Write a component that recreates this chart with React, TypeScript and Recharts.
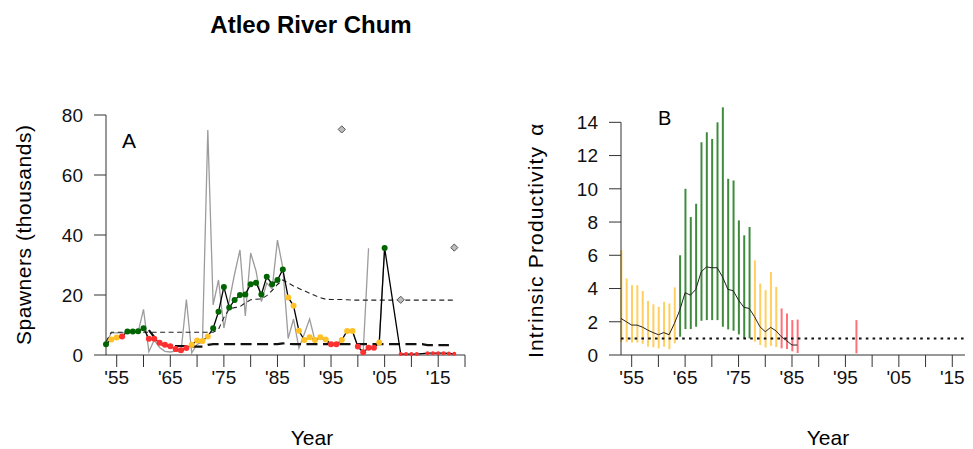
import React from 'react';
import { ComposedChart, Line, Bar, Cell, XAxis, YAxis, ReferenceLine, Scatter } from 'recharts';

// ---------- Panel A data ----------
const yearsA = [
  1953, 1954, 1955, 1956, 1957, 1958, 1959, 1960, 1961, 1962,
  1963, 1964, 1965, 1966, 1967, 1968, 1969, 1970, 1971, 1972,
  1973, 1974, 1975, 1976, 1977, 1978, 1979, 1980, 1981, 1982,
  1983, 1984, 1985, 1986, 1987, 1988, 1989, 1990, 1991, 1992,
  1993, 1994, 1995, 1996, 1997, 1998, 1999, 2000, 2001, 2002,
  2003, 2004, 2005, 2006, 2007, 2008, 2009, 2010, 2011, 2012,
  2013, 2014, 2015, 2016, 2017, 2018,
];
// observed spawners (thousands), grey line
const observedSpawners = [
  3.9, 7.4, 7.4, 7.4, 7.6, 7.6, 7.6, 15.2, 1.1, 5.0,
  2.5, 1.2, 1.0, 1.3, 1.0, 18.5, 0.7, 3.5, 4.4, 75,
  16.7, 25, 9, 18, 27, 35, 13, 34, 28, 17.8,
  24, 22, 38.3, 29, 5.5, 12, 2.3, 7, 12, 4.8,
  5.6, 4.8, 3.2, 3.2, null, 7.6, 7.8, 2.8, 0.9, 35.6,
  null, 4.2, 35.7, null, null, null, null, null, null, null,
  null, null, null, null, null, null,
];
// smoothed spawners (thousands), black line with status points
const smoothedSpawners = [
  3.6, 5.2, 5.8, 6.2, 7.8, 7.8, 7.9, 8.9, 5.4, 5.4,
  4.1, 3.4, 2.9, 2.0, 1.6, 2.3, 3.4, 4.8, 4.7, 6.2,
  8.9, 14.4, 22.7, 15.8, 18.3, 20.0, 20.2, 23.6, 24.1, 20.2,
  26.1, 23.6, 25.0, 28.5, 19.2, 16.4, 8.1, 5.0, 5.9, 5.0,
  5.9, 5.2, 3.6, 3.6, 5.0, 8.0, 8.0, 2.8, 0.9, 2.4,
  2.4, 4.2, 35.7, null, null, 0.3, 0.3, 0.3, 0.3, null,
  0.6, 0.6, 0.6, 0.6, 0.5, 0.4,
];
// status: G = green, A = amber, R = red, r = red (sparse data)
const spawnerStatus = [
  'G', 'A', 'A', 'R', 'G', 'G', 'G', 'G', 'R', 'R',
  'R', 'R', 'R', 'R', 'R', 'R', 'A', 'A', 'A', 'A',
  'G', 'G', 'G', 'G', 'G', 'G', 'G', 'G', 'G', 'G',
  'G', 'G', 'G', 'G', 'A', 'A', 'A', 'A', 'A', 'A',
  'A', 'A', 'R', 'R', 'A', 'A', 'A', 'R', 'R', 'R',
  'R', 'A', 'G', '', '', 'r', 'r', 'r', 'r', '',
  'r', 'r', 'r', 'r', 'r', 'r',
];
// upper benchmark (thin dashed)
const upperBenchmark = [
  4.5, 7.6, 7.6, 7.6, 7.6, 7.6, 7.6, 7.6, 7.6, 7.6,
  7.6, 7.6, 7.6, 7.6, 7.6, 7.6, 7.6, 7.6, 7.6, 7.6,
  7.6, 8.6, 12.5, 15.3, 15.8, 16.1, 17.4, 18.4, 18.6, 18.7,
  19.8, 21.5, 23.5, 25.0, 24.0, 23.0, 22.2, 21.4, 20.6, 19.8,
  19.1, 18.6, 18.5, 18.5, 18.5, 18.4, 18.3, 18.3, 18.3, 18.3,
  18.3, 18.3, 18.3, 18.3, 18.3, 18.3, 18.3, 18.3, 18.3, 18.3,
  18.3, 18.3, 18.3, 18.3, 18.3, 18.3,
];
// lower benchmark (thick dashed)
const lowerBenchmark = [
  null, null, null, null, null, null, null, null, 8.3, 6.0,
  3.8, 3.1, 3.0, 3.0, 3.0, 3.0, 2.9, 2.8, 2.8, 3.4,
  3.6, 3.6, 3.6, 3.6, 3.6, 3.6, 3.6, 3.6, 3.6, 3.6,
  3.6, 3.6, 3.6, 3.9, 3.7, 3.6, 3.6, 3.6, 3.6, 3.6,
  3.6, 3.6, 3.6, 3.6, 3.6, 3.6, 3.6, 3.6, 3.6, 3.6,
  3.6, 3.6, 3.6, 3.6, 3.6, 3.6, 3.6, 3.6, 3.6, 3.6,
  3.3, 3.3, 3.3, 3.3, 3.3, null,
];
// flagged observations (grey diamonds)
const flaggedYears = [1997, 2008, 2018];
const flaggedValues = [75.2, 18.4, 35.8];

// ---------- Panel B data ----------
const yearsB = [
  1953, 1954, 1955, 1956, 1957, 1958, 1959, 1960, 1961, 1962,
  1963, 1964, 1965, 1966, 1967, 1968, 1969, 1970, 1971, 1972,
  1973, 1974, 1975, 1976, 1977, 1978, 1979, 1980, 1981, 1982,
  1983, 1984, 1985, 1986, 1997,
];
const alphaLower = [
  0.8, 0.77, 0.75, 0.75, 0.67, 0.5, 0.46, 0.4, 0.5, 0.35,
  0.71, 1.1, 1.56, 1.56, 1.7, 2.06, 2.1, 2.1, 2.1, 1.7,
  1.54, 1.46, 1.24, 1.0, 1.0, 0.8, 0.6, 0.45, 0.55, 0.48,
  0.4, 0.36, 0.22, 0.12, 0.1,
];
const alphaUpper = [
  6.3, 4.6, 4.2, 4.2, 3.85, 3.25, 3.05, 2.9, 3.2, 3.1,
  4.07, 6.0, 10.0, 8.3, 9.1, 12.8, 13.4, 13.0, 14.0, 14.9,
  10.6, 10.5, 8.1, 7.2, 7.7, 5.7, 4.3, 3.9, 5.0, 4.1,
  2.8, 2.5, 2.1, 2.13, 2.1,
];
const alphaMedian = [
  2.2, 2.0, 1.8, 1.8, 1.68, 1.5, 1.35, 1.22, 1.35, 1.22,
  1.9, 2.7, 3.75, 3.6, 3.95, 5.0, 5.3, 5.25, 5.25, 4.7,
  3.95, 3.87, 3.3, 2.87, 2.8, 2.3, 1.7, 1.4, 1.66, 1.46,
  1.1, 0.86, 0.6, 0.6, null,
];
const alphaStatus = [
  'A', 'A', 'A', 'A', 'A', 'A', 'A', 'A', 'A', 'A',
  'A', 'G', 'G', 'G', 'G', 'G', 'G', 'G', 'G', 'G',
  'G', 'G', 'G', 'G', 'G', 'A', 'A', 'A', 'A', 'A',
  'R', 'R', 'R', 'R', 'R',
];
const replacementLevel = 1;

// ---------- Axis ticks ----------
const xTickYears = [1955, 1960, 1965, 1970, 1975, 1980, 1985, 1990, 1995, 2000, 2005, 2010, 2015, 2020];
const xLabelYears = [1955, 1965, 1975, 1985, 1995, 2005, 2015];
const xLabels = ["'55", "'65", "'75", "'85", "'95", "'05", "'15"];
const yTicksA = [0, 20, 40, 60, 80];
const yTicksB = [0, 2, 4, 6, 8, 10, 12, 14];

// ---------- Tables built from the arrays ----------
const tableA = yearsA.map((year, i) => ({
  year,
  obs: observedSpawners[i],
  est: smoothedSpawners[i],
  status: spawnerStatus[i],
  upper: upperBenchmark[i],
  lower: lowerBenchmark[i],
}));
const flaggedTable = flaggedYears.map((year, i) => ({ year, value: flaggedValues[i] }));
const tableB = yearsB.map((year, i) => ({
  year,
  range: [alphaLower[i], alphaUpper[i]],
  median: alphaMedian[i],
  status: alphaStatus[i],
}));

// ---------- Styles ----------
const FONT = '"Liberation Sans", Arial, sans-serif';
const POINT_COLORS: Record<string, string> = { G: '#006400', A: '#FFC125', R: '#FF3030', r: '#FF3030' };
const BAR_COLORS: Record<string, string> = { G: '#3E8B3E', A: '#FFCF60', R: '#FF7078' };
const AXIS = '#333';

const fmtX = (v: number) => {
  const k = xLabelYears.indexOf(v);
  return k >= 0 ? xLabels[k] : '';
};

const StatusDot = (props: any) => {
  const { cx, cy, payload, index } = props;
  if (cx == null || cy == null || payload == null || payload.est == null || !payload.status) {
    return <g key={`sd-${index}`} />;
  }
  const st = payload.status as string;
  return <circle key={`sd-${index}`} cx={cx} cy={cy} r={st === 'r' ? 2 : 3} fill={POINT_COLORS[st]} stroke="none" />;
};

const Diamond = (props: any) => {
  const { cx, cy } = props;
  const s = 3.6;
  return (
    <polygon
      points={`${cx},${cy - s} ${cx + s},${cy} ${cx},${cy + s} ${cx - s},${cy}`}
      fill="#BDBDBD"
      stroke="#555"
      strokeWidth={1}
    />
  );
};

const tickStyle = { fill: '#111', fontSize: 19, fontFamily: FONT };

export default function App() {
  return (
    <div style={{ position: 'relative', width: 965, height: 441, overflow: 'hidden', fontFamily: FONT, background: '#fff' }}>
      <style>{'html,body{overflow:hidden;}'}</style>

      {/* Panel A */}
      <div style={{ position: 'absolute', left: 0, top: 0 }}>
        <ComposedChart width={470} height={441} data={tableA} margin={{ top: 107, right: 13, bottom: 64, left: 38 }}>
          <XAxis
            type="number"
            dataKey="year"
            domain={[1953, 2020]}
            ticks={xTickYears}
            interval={0}
            tickFormatter={fmtX}
            height={30}
            tickSize={12}
            tickMargin={4}
            axisLine={{ stroke: AXIS }}
            tickLine={{ stroke: AXIS }}
            tick={tickStyle}
          />
          <YAxis
            type="number"
            domain={[0, 80]}
            ticks={yTicksA}
            interval={0}
            width={60}
            tickSize={12}
            tickMargin={11}
            axisLine={{ stroke: AXIS }}
            tickLine={{ stroke: AXIS }}
            tick={tickStyle}
          />
          <Line dataKey="obs" stroke="#9C9C9C" strokeWidth={1.3} dot={false} activeDot={false} isAnimationActive={false} connectNulls={false} />
          <Line dataKey="upper" stroke="#222" strokeWidth={1.1} strokeDasharray="5 3.5" dot={false} activeDot={false} isAnimationActive={false} />
          <Line dataKey="lower" stroke="#111" strokeWidth={2.2} strokeDasharray="11 5.5" dot={false} activeDot={false} isAnimationActive={false} />
          <Line dataKey="est" stroke="#000" strokeWidth={1.3} connectNulls dot={StatusDot} activeDot={false} isAnimationActive={false} />
          <Scatter data={flaggedTable} dataKey="value" shape={Diamond} isAnimationActive={false} />
        </ComposedChart>
      </div>

      {/* Panel B */}
      <div style={{ position: 'absolute', left: 500, top: 0 }}>
        <ComposedChart width={500} height={441} data={tableB} margin={{ top: 97.7, right: 29, bottom: 64, left: 53 }}>
          <XAxis
            type="number"
            dataKey="year"
            domain={[1953, 2020]}
            ticks={xTickYears}
            interval={0}
            tickFormatter={fmtX}
            height={30}
            tickSize={12}
            tickMargin={4}
            axisLine={{ stroke: AXIS }}
            tickLine={{ stroke: AXIS }}
            tick={tickStyle}
          />
          <YAxis
            type="number"
            domain={[0, 15]}
            ticks={yTicksB}
            interval={0}
            width={60}
            tickSize={12}
            tickMargin={11}
            axisLine={false}
            tickLine={{ stroke: AXIS }}
            tick={tickStyle}
          />
          <ReferenceLine segment={[{ x: 1953, y: 0 }, { x: 1953, y: 14 }]} stroke={AXIS} strokeWidth={1} />
          <Bar dataKey="range" barSize={2} isAnimationActive={false}>
            {tableB.map((d, i) => (
              <Cell key={`c-${i}`} fill={BAR_COLORS[d.status]} />
            ))}
          </Bar>
          <ReferenceLine y={replacementLevel} stroke="#111" strokeWidth={2} strokeDasharray="2.6 4.2" />
          <Line dataKey="median" stroke="#222" strokeWidth={1} dot={false} activeDot={false} isAnimationActive={false} connectNulls={false} />
        </ComposedChart>
      </div>

      {/* Titles and labels */}
      <svg width={965} height={441} style={{ position: 'absolute', left: 0, top: 0, pointerEvents: 'none' }}>
        <text x={303} y={25} textAnchor="middle" fontSize={24} fontWeight="bold" fill="#000" fontFamily={FONT}>
          Atleo River Chum
        </text>
        <text x={114} y={140} fontSize={21} fill="#000" fontFamily={FONT}>A</text>
        <text x={650} y={117} fontSize={20} fill="#000" fontFamily={FONT}>B</text>
        <text x={304} y={437} textAnchor="middle" fontSize={21} fill="#000" fontFamily={FONT}>Year</text>
        <text x={820} y={437} textAnchor="middle" fontSize={21} fill="#000" fontFamily={FONT}>Year</text>
        <text
          transform="translate(23,227) rotate(-90)"
          textAnchor="middle"
          fontSize={21}
          fill="#000"
          fontFamily={FONT}
          textLength={220}
          lengthAdjust="spacing"
        >
          Spawners (thousands)
        </text>
        <text
          transform="translate(535,350) rotate(-90)"
          textAnchor="start"
          fontSize={21}
          fill="#000"
          fontFamily={FONT}
        >
          <tspan textLength={211} lengthAdjust="spacing">Intrinsic Productivity</tspan>
          <tspan dx={10}>α</tspan>
        </text>
      </svg>
    </div>
  );
}
